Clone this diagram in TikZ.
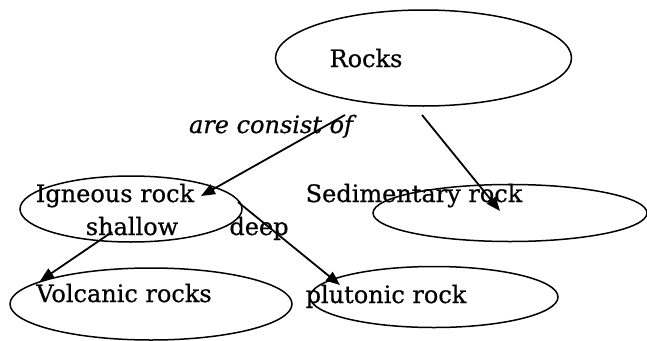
\documentclass[tikz,border=0pt]{standalone}
\usepackage{fontspec}
\setmainfont{DejaVu Serif}[FakeBold=0.6]
\usetikzlibrary{arrows.meta,shapes.geometric}
\begin{document}
\begin{tikzpicture}[x=1pt,y=-1pt,
  oval/.style={draw=black,line width=1.5pt,ellipse,inner sep=0pt},
  lbl/.style={anchor=base,inner sep=0pt,font=\fontsize{24}{28}\selectfont},
  conn/.style={line width=1.8pt,-{Triangle[length=14pt,width=11pt]}}]
\useasboundingbox (0,0) rectangle (647,340);
% ellipses
\node[oval,minimum width=296pt,minimum height=96pt] (rocks) at (423.5,58) {};
\node[oval,minimum width=222pt,minimum height=66pt] (ign) at (131,209) {};
\node[oval,minimum width=282pt,minimum height=72pt] (volc) at (151,304) {};
\node[oval,minimum width=274pt,minimum height=57pt] (sed) at (510,213) {};
\node[oval,minimum width=248pt,minimum height=61pt] (plut) at (434,297) {};
% texts
\node[lbl] (trocks) at (366,67) {Rocks};
\node[lbl] (tign) at (115,202) {Igneous rock};
\node[lbl] (tshal) at (132,235) {shallow};
\node[lbl] (tvolc) at (124,302) {Volcanic rocks};
\node[lbl] (tsed) at (414,202) {Sedimentary rock};
\node[lbl] (tplut) at (386,303) {plutonic rock};
\node[lbl] (tdeep) at (259,235) {deep};
\node[lbl,font=\fontsize{24}{28}\selectfont\itshape] (tcons) at (271,133) {are consist of};
% connector ends
\coordinate (a1) at (345,115);
\coordinate (a2) at (201,196);
\coordinate (b1) at (422,115);
\coordinate (b2) at (500,211);
\coordinate (c1) at (112,232);
\coordinate (c2) at (40,281);
\coordinate (d1) at (238,202);
\coordinate (d2) at (340,285);
\draw[conn] (a1) -- (a2);
\draw[conn] (b1) -- (b2);
\draw[conn] (c1) -- (c2);
\draw[conn] (d1) -- (d2);
\end{tikzpicture}
\end{document}
